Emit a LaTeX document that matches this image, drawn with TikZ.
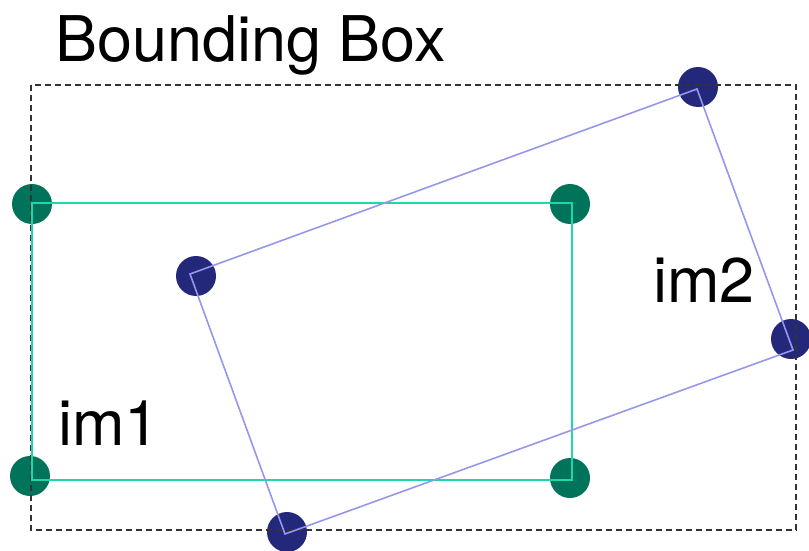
\documentclass[tikz,border=0pt]{standalone}
\usepackage{fontspec}
\setmainfont{TeX Gyre Heros}
\usetikzlibrary{positioning}
\definecolor{dotgreen}{RGB}{0,115,90}
\definecolor{linegreen}{RGB}{30,215,170}
\definecolor{dotblue}{RGB}{35,40,122}
\definecolor{lineblue}{RGB}{150,150,235}

\begin{document}
\begin{tikzpicture}[x=1pt,y=-1pt,
    gdot/.style={circle,fill=dotgreen,minimum size=40pt,inner sep=0pt},
    bdot/.style={circle,fill=dotblue,minimum size=40pt,inner sep=0pt},
    bigtext/.style={anchor=base west,inner sep=0pt,font=\fontsize{63}{63}\selectfont}]
\useasboundingbox (0,0) rectangle (809,551);
% corners of the two images
\coordinate (g1) at (32,203);
\coordinate (g2) at (572,203);
\coordinate (g3) at (572,480);
\coordinate (g4) at (32,480);
\coordinate (b1) at (190,274);
\coordinate (b2) at (697,89);
\coordinate (b3) at (793,350);
\coordinate (b4) at (285,534);
% dots
\node[gdot] (gd1) at (32,204) {};
\node[gdot] (gd2) at (570,204) {};
\node[gdot] (gd3) at (570,478) {};
\node[gdot] (gd4) at (30,476) {};
\node[bdot] (bd1) at (196,276) {};
\node[bdot] (bd2) at (698,87) {};
\node[bdot] (bd3) at (791,339) {};
\node[bdot] (bd4) at (287,532) {};
% bounding box
\draw[black!80,line width=1.2pt,dash pattern=on 6pt off 4pt] (31,85) rectangle (796,530);
\draw[linegreen,line width=2.2pt] (g1) -- (g2) -- (g3) -- (g4) -- cycle;
\draw[lineblue,line width=1.6pt] (b1) -- (b2) -- (b3) -- (b4) -- cycle;
% labels
\node[bigtext] (title) at (55,62) {Bounding Box};
\node[bigtext] (im1) at (58,445) {im1};
\node[bigtext] (im2) at (653,302) {im2};
\end{tikzpicture}
\end{document}
